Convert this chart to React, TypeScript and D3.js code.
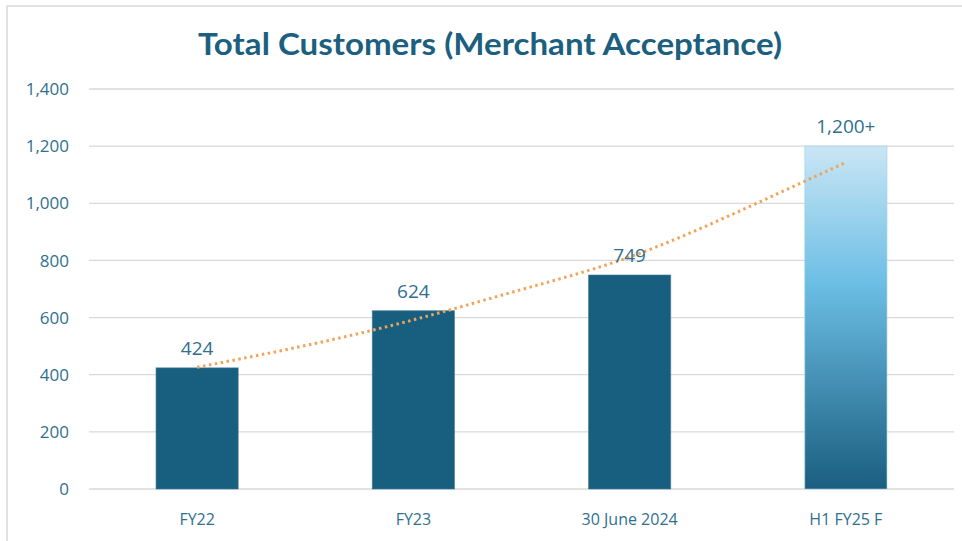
import React from "react";
import * as d3 from "d3";

const categories = ["FY22", "FY23", "30 June 2024", "H1 FY25 F"];
const values = [424, 624, 749, 1200];
const valueLabels = ["424", "624", "749", "1,200+"];
const yTicks = [0, 200, 400, 600, 800, 1000, 1200, 1400];
// trend line at half-category steps
const trendPos = [0, 0.5, 1, 1.5, 2, 2.5, 3];
const trendVals = [426, 502, 592, 698, 812, 970, 1143];

const W = 962;
const H = 541;
const margin = { left: 89, right: 8, top: 89, bottom: 52 };

export default function App() {
  const x = d3
    .scaleBand<string>()
    .domain(categories)
    .range([margin.left, W - margin.right])
    .paddingInner(0.62)
    .paddingOuter(0.31);
  const y = d3.scaleLinear().domain([0, 1400]).range([H - margin.bottom, margin.top]);
  const cx = (c: string) => (x(c) as number) + x.bandwidth() / 2;
  const tx = d3
    .scaleLinear()
    .domain([0, categories.length - 1])
    .range([cx(categories[0]), cx(categories[categories.length - 1])]);
  const line = d3
    .line<number>()
    .x((_, i) => tx(trendPos[i]))
    .y((d) => y(d))
    .curve(d3.curveNatural);

  const labelColor = "#2f6f90";
  const font = "'Open Sans', sans-serif";

  return (
    <svg
      width={W}
      height={H}
      style={{ position: "absolute", left: 0, top: 0, background: "#fff" }}
    >
      <defs>
        <linearGradient id="fcast" x1="0" y1="0" x2="0" y2="1">
          <stop offset="0" stopColor="#c9e6f5" />
          <stop offset="0.4" stopColor="#6cbee5" />
          <stop offset="1" stopColor="#1a5e7f" />
        </linearGradient>
      </defs>
      <line x1={7} x2={W} y1={6} y2={6} stroke="#d9d9d9" strokeWidth={1.5} />
      <line x1={7} x2={7} y1={6} y2={H} stroke="#d9d9d9" strokeWidth={1.5} />
      <text
        x={490}
        y={55}
        textAnchor="middle"
        fontFamily="Lato, 'Open Sans', sans-serif"
        fontWeight={700}
        fontSize={30}
        fill="#1c5f7f"
        textLength={584}
        lengthAdjust="spacingAndGlyphs"
      >
        Total Customers (Merchant Acceptance)
      </text>
      {yTicks.map((t) => (
        <g key={t}>
          <line
            x1={margin.left}
            x2={W - margin.right}
            y1={y(t)}
            y2={y(t)}
            stroke="#d9d9d9"
            strokeWidth={1.3}
          />
          <text
            x={69}
            y={y(t)}
            dy="0.36em"
            textAnchor="end"
            fontFamily={font}
            fontWeight={500}
            fontSize={17}
            fill={labelColor}
          >
            {d3.format(",")(t)}
          </text>
        </g>
      ))}
      {categories.map((c, i) => (
        <g key={c}>
          <rect
            x={x(c)}
            y={y(values[i])}
            width={x.bandwidth()}
            height={y(0) - y(values[i])}
            fill={i === 3 ? "url(#fcast)" : "#175e7f"}
            stroke={i === 3 ? "#9fcfe8" : "#3d7a99"}
            strokeOpacity={0.6}
            strokeWidth={1}
          />
          <text
            x={cx(c)}
            y={525}
            textAnchor="middle"
            fontFamily={font}
            fontWeight={500}
            fontSize={16}
            fill={labelColor}
          >
            {c}
          </text>
        </g>
      ))}
      <path
        d={line(trendVals) || ""}
        fill="none"
        stroke="#f2a35a"
        strokeWidth={3}
        strokeDasharray="2.5 3.5"
      />
      {categories.map((c, i) => (
        <text
          key={c + "l"}
          x={cx(c)}
          y={y(values[i]) - 13}
          textAnchor="middle"
          fontFamily={font}
          fontWeight={500}
          fontSize={19}
          fill={labelColor}
        >
          {valueLabels[i]}
        </text>
      ))}
    </svg>
  );
}
